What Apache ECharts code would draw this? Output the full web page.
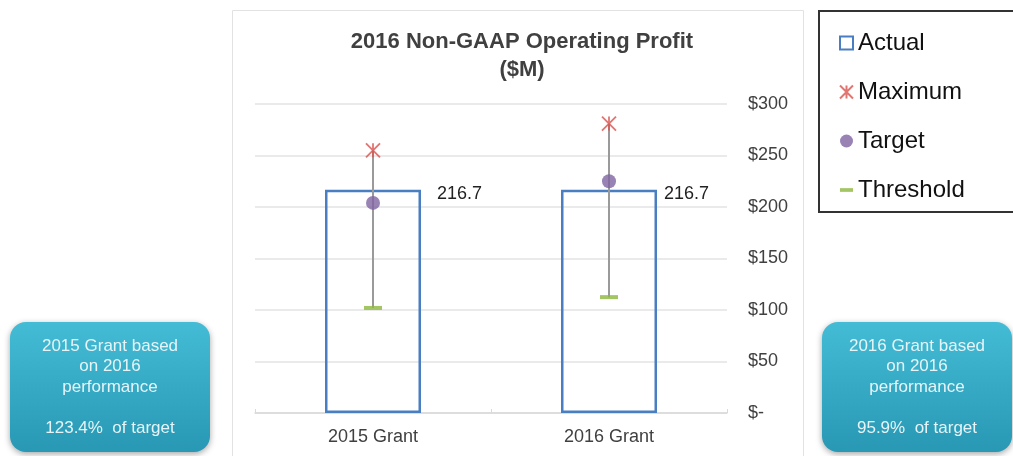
<!DOCTYPE html>
<html>
<head>
<meta charset="utf-8">
<script src="https://cdn.jsdelivr.net/npm/echarts@6/dist/echarts.min.js"></script>
<style>
  html, body { margin: 0; padding: 0; background: #fff; }
  #main { width: 1013px; height: 456px; }
</style>
</head>
<body>
<div id="main"></div>
<script>
// values ($M)
const categories = ['2015 Grant', '2016 Grant'];
const actual = [216.7, 216.7];
const maximum = [255, 281];
const target = [204, 225];
const threshold = [102, 112.5];
const yTicks = [0, 50, 100, 150, 200, 250, 300];
const grantNotes = [
  ['2015 Grant based', 'on 2016', 'performance', '', '123.4%  of target'],
  ['2016 Grant based', 'on 2016', 'performance', '', '95.9%  of target']
];

const FONT = '"Liberation Sans", Arial, sans-serif';
const crossPath = 'path://M0,0L10,10M10,0L0,10M5,0L5,10';

let chart = echarts.init(document.getElementById('main'));

function noteBox(x, w, lines, tx) {
  return {
    type: 'group',
    children: [
      {
        type: 'rect',
        shape: { x: x, y: 322, width: w, height: 130, r: 16 },
        style: {
          fill: new echarts.graphic.LinearGradient(0, 0, 0, 1, [
            { offset: 0, color: '#44bcd6' },
            { offset: 1, color: '#2898b4' }
          ]),
          shadowBlur: 6,
          shadowColor: 'rgba(0,0,0,0.35)',
          shadowOffsetY: 2
        }
      },
      {
        type: 'text',
        style: {
          x: tx, y: 336,
          text: lines.join('\n'),
          align: 'center',
          font: '17px ' + FONT,
          lineHeight: 20.5,
          fill: '#e6f4f7'
        }
      }
    ]
  };
}

chart.setOption({
  animation: false,
  backgroundColor: '#fff',
  title: {
    text: '2016 Non-GAAP Operating Profit\n($M)',
    left: 517,
    top: 23,
    textAlign: 'center',
    textStyle: { fontFamily: FONT, fontSize: 22, fontWeight: 'bold', color: '#404040', lineHeight: 28 }
  },
  legend: {
    orient: 'vertical',
    left: 834,
    top: 26,
    itemWidth: 13,
    itemHeight: 13,
    itemGap: 25,
    textStyle: { fontFamily: FONT, fontSize: 24, color: '#111', padding: [0, 0, 0, 0] },
    data: [
      { name: 'Actual', icon: 'rect' },
      { name: 'Maximum', icon: crossPath },
      { name: 'Target', icon: 'circle' },
      { name: 'Threshold', icon: 'path://M0,0L14,0L14,4L0,4Z' }
    ]
  },
  grid: { left: 255, right: 286, top: 104, bottom: 43 },
  xAxis: {
    type: 'category',
    data: categories,
    axisLine: { lineStyle: { color: '#d9d9d9', width: 1.5 } },
    axisTick: { show: true, inside: true, length: 4, lineStyle: { color: '#d9d9d9' } },
    axisLabel: { fontFamily: FONT, fontSize: 18, color: '#404040', margin: 15 }
  },
  yAxis: {
    type: 'value',
    position: 'right',
    min: 0,
    max: 300,
    interval: 50,
    axisLine: { show: false },
    axisTick: { show: false },
    splitLine: { lineStyle: { color: '#e3e3e3', width: 1.5 } },
    axisLabel: {
      fontFamily: FONT, fontSize: 18, color: '#404040', margin: 21, align: 'left',
      formatter: v => yTicks.includes(v) ? (v === 0 ? '$-' : '$' + v) : ''
    }
  },
  series: [
    {
      name: 'Actual',
      type: 'bar',
      barWidth: 96,
      data: actual.map((v, i) => ({
        value: v,
        label: { position: i === 0 ? [112, -5] : [103, -5] }
      })),
      itemStyle: { color: 'rgba(0,0,0,0)', borderColor: '#4a7ec2', borderWidth: 2.5 },
      label: {
        show: true,
        fontFamily: FONT, fontSize: 18, color: '#222',
        formatter: p => p.value.toFixed(1)
      },
      z: 2
    },
    {
      name: 'range',
      type: 'custom',
      data: categories.map((c, i) => [i, threshold[i], maximum[i]]),
      renderItem: (params, api) => {
        const lo = api.coord([api.value(0), api.value(1)]);
        const hi = api.coord([api.value(0), api.value(2)]);
        return {
          type: 'line',
          shape: { x1: lo[0], y1: lo[1], x2: hi[0], y2: hi[1] },
          style: { stroke: '#9a9a9a', lineWidth: 2 }
        };
      },
      z: 3
    },
    {
      name: 'Threshold',
      type: 'scatter',
      data: threshold,
      symbol: 'rect',
      symbolSize: [18, 4],
      itemStyle: { color: '#8cb63c' },
      z: 4
    },
    {
      name: 'Target',
      type: 'scatter',
      data: target,
      symbol: 'circle',
      symbolSize: 14,
      itemStyle: { color: '#8064a2' },
      z: 4
    },
    {
      name: 'Maximum',
      type: 'scatter',
      data: maximum,
      symbol: crossPath,
      symbolSize: 14,
      itemStyle: { color: 'rgba(0,0,0,0)', borderColor: '#d9534f', borderWidth: 1.8 },
      z: 5
    }
  ],
  graphic: [
    {
      type: 'rect',
      shape: { x: 232.5, y: 10.5, width: 571, height: 460 },
      style: { fill: 'none', stroke: '#e2e2e2', lineWidth: 1 },
      silent: true,
      z: -1
    },
    {
      type: 'rect',
      shape: { x: 819, y: 11, width: 196, height: 201 },
      style: { fill: 'none', stroke: '#333', lineWidth: 2 },
      silent: true
    },
    noteBox(10, 200, grantNotes[0], 110),
    noteBox(822, 190, grantNotes[1], 917)
  ]
});
</script>
</body>
</html>
